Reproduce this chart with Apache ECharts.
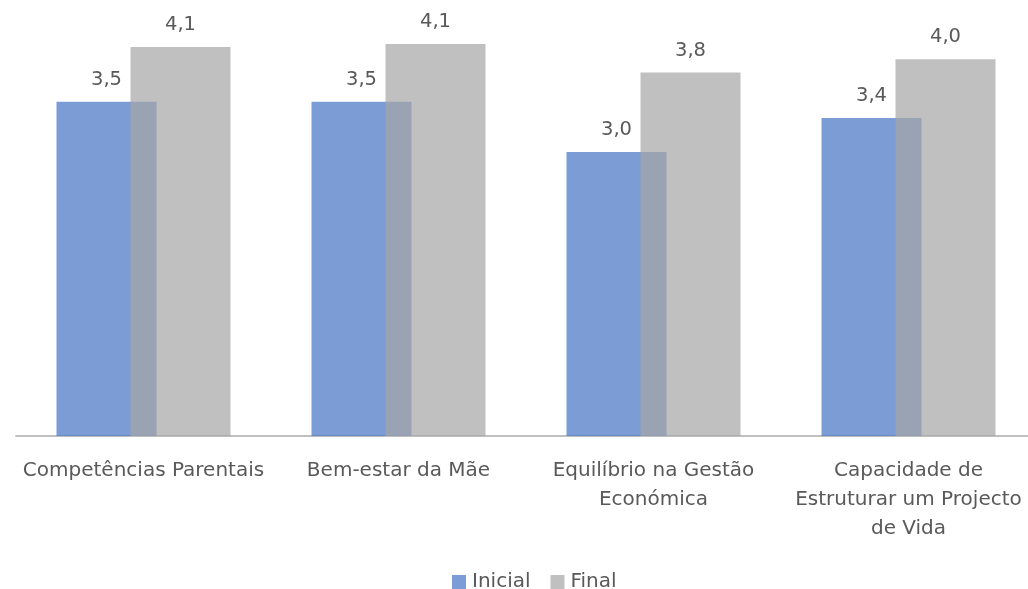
<!DOCTYPE html>
<html>
<head>
<meta charset="utf-8">
<script src="https://cdn.jsdelivr.net/npm/echarts@6/dist/echarts.min.js"></script>
<style>
  html, body { margin: 0; padding: 0; background: #fff; }
  #chart { width: 1028px; height: 589px; }
</style>
</head>
<body>
<div id="chart"></div>
<script>
// Categories (wrapped the same way as the original axis labels)
const categories = [
  'Competências Parentais',
  'Bem-estar da Mãe',
  'Equilíbrio na Gestão\nEconómica',
  'Capacidade de\nEstruturar um Projecto\nde Vida'
]
// Scores (labels show one decimal)
const inicial = [3.53, 3.53, 3.0, 3.36]
const final = [4.11, 4.14, 3.84, 3.98]

const textColor = '#595959'
const fontFamily = '"DejaVu Sans", sans-serif'

const chart = echarts.init(document.getElementById('chart'))

const fmt = (p) => p.value.toFixed(1).replace('.', ',')

const valueLabel = {
  show: true,
  position: 'top',
  distance: 12,
  formatter: fmt,
  color: textColor,
  fontSize: 19.5,
  fontFamily: fontFamily
}

chart.setOption({
  animation: false,
  grid: {
    left: 16,
    right: -8,
    top: 10,
    height: 426,
    outerBoundsMode: 'none'
  },
  legend: {
    left: 447,
    top: 567,
    itemWidth: 14,
    itemHeight: 14,
    itemGap: 20,
    icon: 'rect',
    textStyle: { color: textColor, fontSize: 20, fontFamily: fontFamily, padding: [0, 0, 0, 1] },
    data: ['Inicial', 'Final']
  },
  xAxis: {
    type: 'category',
    data: categories,
    axisLine: { lineStyle: { color: '#bfbfbf', width: 2 } },
    axisTick: { show: false },
    axisLabel: {
      interval: 0,
      margin: 20,
      color: textColor,
      fontSize: 20,
      lineHeight: 29,
      fontFamily: fontFamily
    }
  },
  yAxis: {
    type: 'value',
    min: 0,
    max: 4.5,
    show: false,
    splitLine: { show: false }
  },
  series: [
    {
      name: 'Inicial',
      type: 'bar',
      data: inicial,
      barWidth: 100,
      barGap: '-26%',
      itemStyle: { color: 'rgba(68, 114, 196, 0.7)' },
      label: valueLabel
    },
    {
      name: 'Final',
      type: 'bar',
      data: final,
      barWidth: 100,
      itemStyle: { color: 'rgba(165, 165, 165, 0.7)' },
      label: valueLabel
    }
  ]
})
</script>
</body>
</html>
